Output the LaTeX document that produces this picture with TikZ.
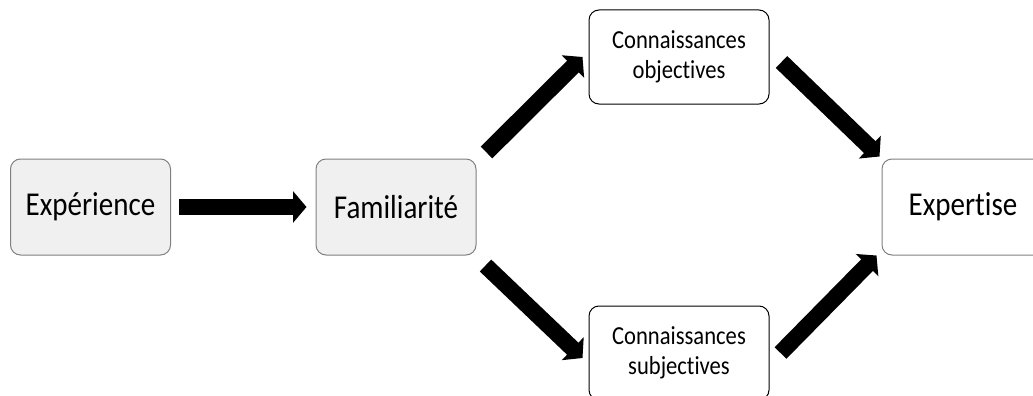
\documentclass[tikz,border=0pt]{standalone}
\usepackage{fontspec}
\usepackage{graphicx}
\setmainfont[Ligatures=NoCommon]{Carlito}
\usetikzlibrary{arrows.meta,calc}

% slightly tall lettering
\newcommand{\tall}[1]{\scalebox{1}[1.15]{#1}}
\newcommand{\twolines}[2]{\tall{\begin{tabular}{@{}c@{}}#1\\[-0.6pt]#2\end{tabular}}}

\tikzset{
  box/.style={rounded corners=10pt, line width=1pt, inner sep=0pt, align=center},
  graybox/.style={box, draw=black!50, fill=black!6, minimum width=160pt, minimum height=96pt, font=\fontsize{29}{34}\selectfont},
  whitebox/.style={box, draw=black, fill=white, minimum width=180pt, minimum height=94pt, font=\fontsize{22.6}{27}\selectfont},
  endbox/.style={box, draw=black!50, fill=white, minimum width=162pt, minimum height=96pt, font=\fontsize{29}{34}\selectfont},
  bigarrow/.style={line width=16.5pt, line cap=butt, -{Triangle[length=13.5pt 0 0, width=31pt 0 0]}}
}

\begin{document}
\begin{tikzpicture}[x=1pt, y=1pt]
  \useasboundingbox (0,0) rectangle (1033,-396);
  \clip (0,0) rectangle (1033,-396);

  % boxes
  \node[graybox]  (exp)  at (90.5,-207) {\tall{Expérience}};
  \node[graybox]  (fam)  at (396,-207)  {\tall{Familiarité}};
  \node[whitebox] (obj)  at (679,-57)   {\twolines{Connaissances}{objectives}};
  \node[whitebox] (subj) at (679,-353)  {\twolines{Connaissances}{subjectives}};
  \node[endbox]   (ext)  at (963,-207)  {\tall{Expertise}};

  % thick block arrows
  \draw[bigarrow] ($(exp.east)+(8,0)$) -- ($(fam.west)+(-9,0)$);
  \draw[bigarrow] ($(fam.north east)+(10,6)$) -- ($(obj.west)+(-6,0)$);
  \draw[bigarrow] ($(fam.south east)+(9,-10)$) -- ($(subj.west)+(-6,-5)$);
  \draw[bigarrow] ($(obj.east)+(12,-5)$) -- ($(ext.north west)+(-2,2)$);
  \draw[bigarrow] ($(subj.east)+(11,0)$) -- ($(ext.south west)+(-5,0)$);
\end{tikzpicture}
\end{document}
